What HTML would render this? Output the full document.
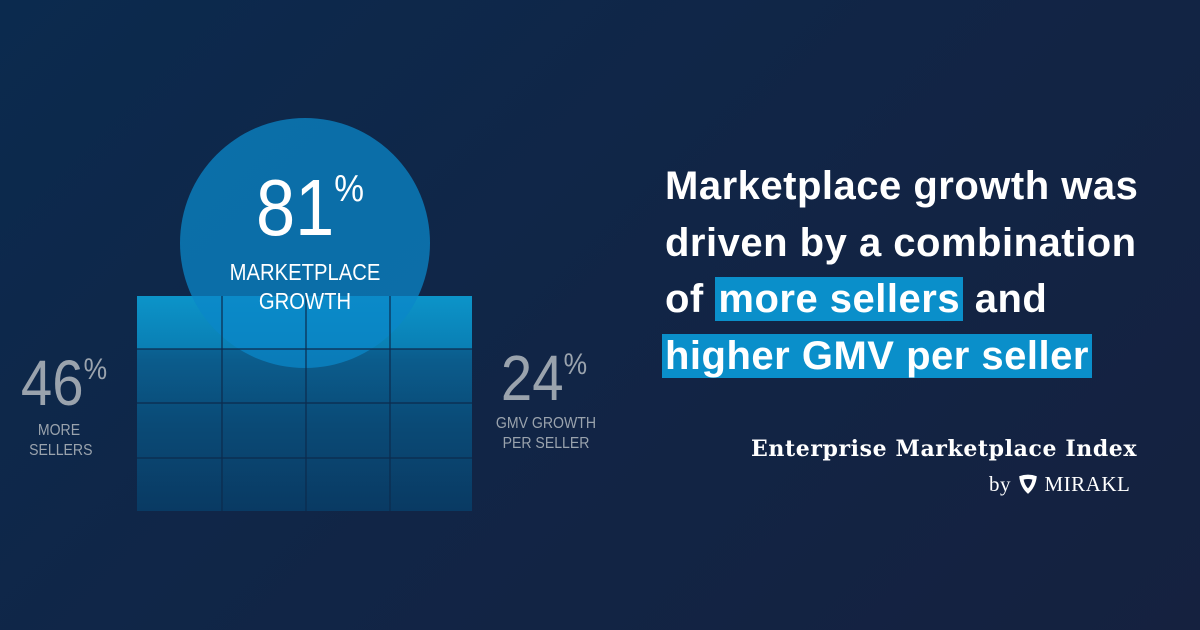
<!DOCTYPE html>
<html><head><style>
body{margin:0;width:1200px;height:630px;overflow:hidden;background:linear-gradient(135deg,#0b2a4e 0%,#112546 50%,#15213f 100%);font-family:"Liberation Sans",sans-serif;position:relative}
.a{position:absolute}
.t{position:absolute;left:665px;color:#fff;font-weight:bold;font-size:40px;white-space:nowrap;letter-spacing:0.5px}
.hl{background:#0a8fca;padding:0 3px}
.c{white-space:nowrap;transform:scaleX(0.88);transform-origin:center}
</style></head><body>
<div class="a" style="left:137px;top:296px;width:335px;height:215px;background:linear-gradient(180deg,#0b7fb6 0%,#0b5c8c 30%,#0a4a76 60%,#093a63 100%)"></div>
<div class="a" style="left:137px;top:296px;width:335px;height:53px;background:linear-gradient(180deg,#0c94c9,#0a7fb4)"></div>
<div class="a" style="left:180px;top:118px;width:250px;height:250px;border-radius:50%;background:rgba(11,135,200,0.75)"></div>
<svg class="a" style="left:0;top:0" width="600" height="630">
<g stroke="#0c2b4d" stroke-width="1.2">
<line x1="222" y1="296" x2="222" y2="511"/><line x1="306" y1="296" x2="306" y2="511"/><line x1="390" y1="296" x2="390" y2="511"/>
<line x1="137" y1="349" x2="472" y2="349"/><line x1="137" y1="403" x2="472" y2="403"/><line x1="137" y1="458" x2="472" y2="458"/>
</g></svg>
<div class="a c" style="left:185px;width:250px;text-align:center;top:170px;color:#fff;font-size:80px;line-height:76px">81<span style="font-size:38px;vertical-align:top;line-height:38px">%</span></div>
<div class="a c" style="left:180px;width:250px;top:258px;text-align:center;color:#fff;font-size:23px;line-height:29px">MARKETPLACE<br>GROWTH</div>
<div class="a c" style="left:6px;width:116px;text-align:center;top:355px;color:#9aa3ad;font-size:64px;line-height:56px">46<span style="font-size:30px;vertical-align:top;line-height:30px">%</span></div>
<div class="a c" style="left:25px;top:421px;width:68px;text-align:center;color:#9aa3ad;font-size:16px;line-height:20px">MORE<br>SELLERS</div>
<div class="a c" style="left:486px;width:116px;text-align:center;top:350px;color:#9aa3ad;font-size:64px;line-height:56px">24<span style="font-size:30px;vertical-align:top;line-height:30px">%</span></div>
<div class="a c" style="left:486px;top:414px;width:120px;text-align:center;color:#9aa3ad;font-size:16px;line-height:20px">GMV GROWTH<br>PER SELLER</div>
<div class="t" style="top:164px">Marketplace growth was</div>
<div class="t" style="top:221px">driven by a combination</div>
<div class="t" style="top:277px">of <span class="hl">more sellers</span> and</div>
<div class="t" style="top:334px;left:662px"><span class="hl">higher GMV per seller</span></div>
<div class="a" style="left:751px;top:436px;color:#fff;font-family:'DejaVu Serif',serif;font-weight:bold;font-size:22px;letter-spacing:0.6px;white-space:nowrap">Enterprise Marketplace Index</div>
<div class="a" style="left:989px;top:472px;color:#fff;font-family:'Liberation Serif',serif;font-size:21px;white-space:nowrap;letter-spacing:0.5px">by <span style="display:inline-block;width:22px;height:22px;vertical-align:-4px"><svg width="22" height="22" viewBox="0 0 20 20"><path d="M2 3 Q10 0 18 3 Q17 13 10 19 Q3 13 2 3Z" fill="#fff"/><path d="M6 6 Q10 5 14 6 Q13 11 10 14 Q7 11 6 6Z" fill="#13203f"/></svg></span> MIRAKL</div>
</body></html>
